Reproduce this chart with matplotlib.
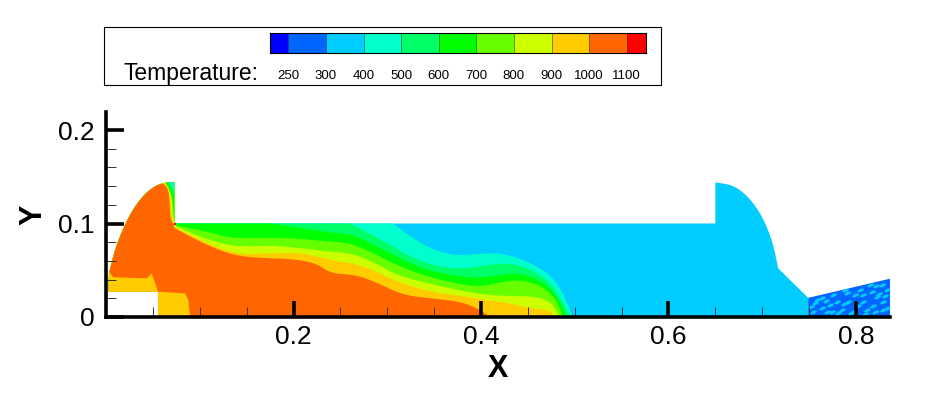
import numpy as np
import matplotlib
matplotlib.use("Agg")
import matplotlib.pyplot as plt
from matplotlib.patches import Polygon, Rectangle

plt.rcParams['font.family'] = ['Liberation Sans', 'DejaVu Sans']

W, H = 942, 397

# colorbar
level_labels = ['250', '300', '400', '500', '600', '700', '800', '900', '1000', '1100']
level_colors = ['#0000ff', '#0066ff', '#00ccff', '#00ffcc', '#00ff66', '#00ff00',
                '#66ff00', '#ccff00', '#ffcc00', '#ff6600', '#ff0000']

# outline of the flow domain, the two arcs are kept apart so they can be rounded
chamber_arc_x = [0.0032, 0.010, 0.021, 0.033, 0.047, 0.060, 0.073]
chamber_arc_y = [0.0465, 0.074, 0.101, 0.122, 0.137, 0.1435, 0.144]
nozzle_arc_x = [0.650, 0.669, 0.685, 0.700, 0.711, 0.717]
nozzle_arc_y = [0.144, 0.141, 0.129, 0.108, 0.081, 0.052]

# outlet strip on the right
strip_x = [0.749, 0.749, 0.8365, 0.8365]
strip_y = [0.000, 0.0205, 0.041, 0.000]
speck_x = [0.7563, 0.7634, 0.7723, 0.7794, 0.7545, 0.7687, 0.7847, 0.7918, 0.7989, 0.8078,
           0.8167, 0.8221, 0.8292, 0.8327, 0.8114, 0.8203, 0.8292, 0.8043, 0.7900, 0.7758,
           0.7634, 0.7812, 0.7971, 0.8345, 0.8274, 0.8149, 0.7581, 0.7520, 0.7680, 0.7745,
           0.7870, 0.7950, 0.8020, 0.8100, 0.8180, 0.8250, 0.8310, 0.8210, 0.8070, 0.7880]
speck_y = [0.0146, 0.0093, 0.0128, 0.0164, 0.0057, 0.0057, 0.0075, 0.0164, 0.0235, 0.0164,
           0.0271, 0.0217, 0.0164, 0.0289, 0.0075, 0.0057, 0.0075, 0.0289, 0.0253, 0.0235,
           0.0200, 0.0039, 0.0057, 0.0093, 0.0342, 0.0342, 0.0182, 0.0110, 0.0175, 0.0050,
           0.0135, 0.0040, 0.0120, 0.0035, 0.0120, 0.0250, 0.0225, 0.0330, 0.0240, 0.0290]

# isotherms in the channel, coldest first
t500_x = [0.306, 0.327, 0.349, 0.374, 0.396, 0.423, 0.452, 0.474, 0.487, 0.498]
t500_y = [0.100, 0.0845, 0.0717, 0.0655, 0.0674, 0.0685, 0.0586, 0.0449, 0.027, 0.0]
t600_x = [0.260, 0.278, 0.300, 0.324, 0.353, 0.381, 0.406, 0.431, 0.455, 0.474, 0.486, 0.495]
t600_y = [0.100, 0.0909, 0.0791, 0.0644, 0.0537, 0.0513, 0.0556, 0.0578, 0.0503, 0.0364, 0.0182, 0.0]
t700_x = [0.177, 0.239, 0.260, 0.282, 0.310, 0.338, 0.370, 0.399, 0.420, 0.441, 0.463, 0.479, 0.492]
t700_y = [0.100, 0.0902, 0.0888, 0.0794, 0.0644, 0.0513, 0.0441, 0.0417, 0.0449, 0.0471, 0.0396, 0.0257, 0.0]
t800_x = [0.075, 0.108, 0.132, 0.161, 0.196, 0.239, 0.260, 0.282, 0.310, 0.338, 0.370, 0.399, 0.423, 0.445, 0.466, 0.481, 0.487]
t800_y = [0.098, 0.0912, 0.0845, 0.0845, 0.0845, 0.0807, 0.0791, 0.0698, 0.0556, 0.0449, 0.0364, 0.0321, 0.0378, 0.0396, 0.0324, 0.0182, 0.0]
t900_x = [0.0736, 0.100, 0.129, 0.150, 0.178, 0.207, 0.239, 0.260, 0.285, 0.310, 0.342, 0.374, 0.406, 0.434, 0.460, 0.476, 0.484]
t900_y = [0.0975, 0.0857, 0.0770, 0.0754, 0.0763, 0.0738, 0.0697, 0.0684, 0.0591, 0.0449, 0.0364, 0.0289, 0.0235, 0.0224, 0.0217, 0.015, 0.0]
t1000_x = [0.0725, 0.100, 0.125, 0.146, 0.175, 0.207, 0.239, 0.274, 0.310, 0.346, 0.381, 0.399, 0.428, 0.452, 0.474, 0.477]
t1000_y = [0.0965, 0.0824, 0.0717, 0.0671, 0.0681, 0.0692, 0.0610, 0.0556, 0.0377, 0.0270, 0.0224, 0.0189, 0.0153, 0.0093, 0.0075, 0.0]
t1100_x = [0.0725, 0.100, 0.125, 0.146, 0.175, 0.199, 0.225, 0.239, 0.268, 0.292, 0.317, 0.346, 0.378, 0.396, 0.410]
t1100_y = [0.0955, 0.0805, 0.0698, 0.0645, 0.0627, 0.0620, 0.0574, 0.0467, 0.0449, 0.0353, 0.0235, 0.0200, 0.0164, 0.0093, 0.0]

# thin bands along the wall of the chamber, hottest first
wall1000_x = [0.0594, 0.0647, 0.0675, 0.0683, 0.0701, 0.073]
wall1000_y = [0.1433, 0.1397, 0.1307, 0.1091, 0.1018, 0.0985]
wall900_x = [0.0610, 0.0655, 0.0688, 0.0697, 0.0712, 0.073]
wall900_y = [0.1433, 0.1390, 0.1300, 0.1091, 0.1018, 0.0995]
wall800_x = [0.0625, 0.0668, 0.0700, 0.0712, 0.073]
wall800_y = [0.1433, 0.1380, 0.1290, 0.1091, 0.1010]
wall700_x = [0.0640, 0.0680, 0.0713, 0.0722, 0.073]
wall700_y = [0.1433, 0.1360, 0.125, 0.11, 0.103]
wall600_x = [0.0660, 0.0705, 0.073]
wall600_y = [0.1433, 0.136, 0.126]
wall500_x = [0.0680, 0.0705, 0.073]
wall500_y = [0.1433, 0.140, 0.135]

# yellow pockets at the bottom left
pocket1_x = [0.0027, 0.0032, 0.0078, 0.0437, 0.0487, 0.0555, 0.0027]
pocket1_y = [0.027, 0.0485, 0.0425, 0.0414, 0.0467, 0.027, 0.027]
pocket2_x = [0.0555, 0.0843, 0.0878, 0.0896, 0.0555]
pocket2_y = [0.027, 0.0253, 0.0182, 0.0, 0.0]

hot_x = [0.0736]
hot_y = [0.0995]


def px_axes(fig, left, top, right, bottom):
    return fig.add_axes([left / W, 1 - bottom / H, (right - left) / W, (bottom - top) / H])


def rounded(xs, ys, passes=3):
    # corner cutting, only rounds the outline, end points stay where they are
    pts = np.column_stack([xs, ys])
    for _ in range(passes):
        q = 0.75 * pts[:-1] + 0.25 * pts[1:]
        r = 0.25 * pts[:-1] + 0.75 * pts[1:]
        mid = np.empty((2 * len(q), 2))
        mid[0::2] = q
        mid[1::2] = r
        pts = np.vstack([pts[:1], mid, pts[-1:]])
    return pts


def fill_under(ax, xs, ys, color, clip):
    # everything left of and below the isotherm
    pts = np.vstack([[(0, 0.15), (xs[0], 0.15)], rounded(xs, ys), [(0, 0)]])
    p = ax.add_patch(Polygon(pts, closed=True, facecolor=color, edgecolor='none'))
    p.set_clip_path(clip)


def fill_wall(ax, xs, ys, color, clip):
    pts = np.vstack([rounded(xs, ys, 2), [(0.073, 0.15), (xs[0], 0.15)]])
    p = ax.add_patch(Polygon(pts, closed=True, facecolor=color, edgecolor='none'))
    p.set_clip_path(clip)


fig = plt.figure(figsize=(W / 100, H / 100), dpi=100)

# legend box
fig.add_artist(Rectangle((104 / W, 1 - 85 / H), 557 / W, 58 / H, transform=fig.transFigure,
                         facecolor='white', edgecolor='black', linewidth=0.8, zorder=-1))
fig.text(124 / W, 1 - 80 / H, 'Temperature:', fontsize=16.5, va='baseline', ha='left')

cax = px_axes(fig, 269.5, 32.7, 645.5, 53.3)
edges = np.array([-0.5] + list(range(10)) + [9.5])
cax.bar(edges[:-1], 1, width=np.diff(edges), align='edge', color=level_colors,
        edgecolor='#00000055', linewidth=0.7)
cax.set_xlim(-0.5, 9.5)
cax.set_ylim(0, 1)
cax.set_yticks([])
cax.set_xticks(range(10))
cax.set_xticklabels(level_labels, fontsize=9.5)
cax.tick_params(axis='x', length=0, pad=12)
for s in cax.spines.values():
    s.set_linewidth(0.8)

# main axes
ax = px_axes(fig, 106, 112, 890, 317)
ax.set_xlim(0, 784 / 937.5)
ax.set_ylim(0, 205 / 935)

domain_pts = np.vstack([[(0.0555, 0.0), (0.0555, 0.027), (0.0027, 0.027)],
                        rounded(chamber_arc_x, chamber_arc_y),
                        [(0.073, 0.100), (0.650, 0.100)],
                        rounded(nozzle_arc_x, nozzle_arc_y),
                        [(0.749, 0.0205), (0.749, 0.0)]])
domain = ax.add_patch(Polygon(domain_pts, closed=True, facecolor=level_colors[2], edgecolor='none'))
fill_under(ax, t500_x, t500_y, level_colors[3], domain)
fill_under(ax, t600_x, t600_y, level_colors[4], domain)
fill_under(ax, t700_x, t700_y, level_colors[5], domain)
fill_under(ax, t800_x, t800_y, level_colors[6], domain)
fill_under(ax, t900_x, t900_y, level_colors[7], domain)
fill_under(ax, t1000_x, t1000_y, level_colors[8], domain)
fill_under(ax, t1100_x, t1100_y, level_colors[9], domain)

fill_wall(ax, wall1000_x, wall1000_y, level_colors[8], domain)
fill_wall(ax, wall900_x, wall900_y, level_colors[7], domain)
fill_wall(ax, wall800_x, wall800_y, level_colors[6], domain)
fill_wall(ax, wall700_x, wall700_y, level_colors[5], domain)
fill_wall(ax, wall600_x, wall600_y, level_colors[4], domain)
fill_wall(ax, wall500_x, wall500_y, level_colors[3], domain)

ax.add_patch(Polygon(list(zip(pocket1_x, pocket1_y)), closed=True, facecolor=level_colors[8], edgecolor='none'))
ax.add_patch(Polygon(list(zip(pocket2_x, pocket2_y)), closed=True, facecolor=level_colors[8], edgecolor='none'))
ax.plot(hot_x, hot_y, 's', color=level_colors[10], ms=1.6, mew=0, zorder=1.5)

strip = ax.add_patch(Polygon(list(zip(strip_x, strip_y)), closed=True,
                             facecolor=level_colors[1], edgecolor='none'))
# the specks are small slanted blobs rather than dots
blob = [(-1.0, -0.3), (-0.3, -0.6), (1.0, 0.1), (0.8, 0.6), (-0.2, 0.5)]
specks = ax.scatter(speck_x, speck_y, s=26, marker=blob, color=level_colors[2], linewidths=0, zorder=1.2)
specks.set_clip_path(strip)

for name in ['top', 'right']:
    ax.spines[name].set_visible(False)
for name in ['left', 'bottom']:
    ax.spines[name].set_linewidth(2.6)

ax.set_xticks([0.2, 0.4, 0.6, 0.8])
ax.set_xticklabels(['0.2', '0.4', '0.6', '0.8'], fontsize=19)
ax.set_xticks(np.arange(0.05, 0.83, 0.05), minor=True)
ax.set_yticks([0, 0.1, 0.2])
ax.set_yticklabels(['0', '0.1', '0.2'], fontsize=19)
ax.set_yticks(np.arange(0.02, 0.2, 0.02), minor=True)
ax.tick_params(axis='x', which='major', direction='in', length=11.5, width=2.6, pad=6)
ax.tick_params(axis='y', which='major', direction='in', length=13, width=2.6, pad=8)
ax.tick_params(which='minor', direction='in', length=7, width=0.7, color='#333333')

fig.text(498 / W, 1 - 369 / H, 'X', fontsize=22, fontweight='bold', ha='center', va='center')
fig.text(33 / W, 1 - 215 / H, 'Y', fontsize=22, fontweight='bold', ha='center', va='center', rotation=90)

fig.savefig('out.png', dpi=100)
